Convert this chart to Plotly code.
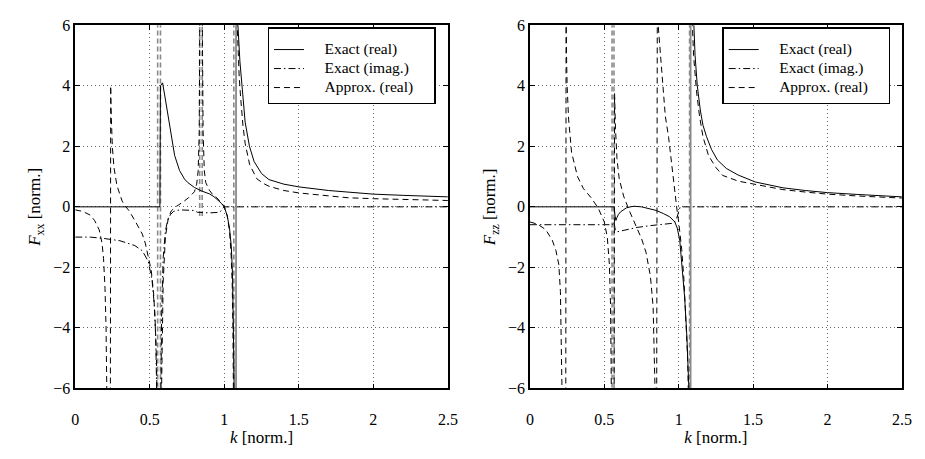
import plotly.graph_objects as go

# ---------------- data ----------------
N = None
# Left panel: F_xx
kxx_exact_real = [0, 0.568, 0.572, 0.586, 0.6, 0.623, 0.645, 0.667, 0.7, 0.733, 0.756, 0.8, 0.85, 0.9, 0.93,
                  0.96, 0.98, 1.0, 1.02, 1.035, 1.047, 1.055, 1.06, 1.064, 1.067, N,
                  1.086, 1.095, 1.105, 1.119, 1.14, 1.169, 1.2, 1.25, 1.3, 1.4, 1.5, 1.7, 1.85, 2.0, 2.2, 2.5]
fxx_exact_real = [0, 0, 4.0, 4.1, 3.7, 3.05, 2.3, 1.7, 1.2, 0.92, 0.8, 0.64, 0.52, 0.43, 0.34,
                  0.22, 0.12, 0.0, -0.3, -0.7, -1.3, -2.2, -3.3, -5.0, -6.5, N,
                  6.5, 5.5, 4.8, 4.0, 2.8, 2.0, 1.5, 1.1, 0.9, 0.75, 0.66, 0.54, 0.47, 0.42, 0.38, 0.33]

kxx_exact_imag = [0, 0.1, 0.2, 0.3, 0.4, 0.45, 0.49, 0.515, 0.53, 0.54, 0.548, N,
                  0.574, 0.58, 0.59, 0.605, 0.62, 0.64, 0.66, 0.7, 0.8, 0.82, 0.9, 0.97, 0.99, 1.0, 2.5]
fxx_exact_imag = [-1.0, -1.0, -1.05, -1.12, -1.28, -1.45, -1.8, -2.4, -3.2, -4.3, -6.5, N,
                  -6.5, -3.5, -1.7, -0.8, -0.45, -0.25, -0.15, -0.1, -0.12, -0.18, -0.2, -0.18, -0.05, 0, 0]

kxx_approx_real = [0, 0.05, 0.1, 0.13, 0.161, 0.18, 0.19, 0.2, 0.207, 0.213, N,
                   0.236, 0.238, 0.242, 0.249, 0.26, 0.28, 0.3, 0.315, 0.34, 0.36, 0.4, 0.425, 0.45, 0.47,
                   0.49, 0.51, 0.525, 0.535, 0.545, 0.55, N,
                   0.578, 0.59, 0.605, 0.625, 0.645, 0.68, 0.72, 0.76, 0.8, 0.815, 0.825, 0.832, 0.836, N,
                   0.852, 0.858, 0.866, 0.876, 0.9, 0.92, 0.95, 0.98, 1.0, 1.02, 1.035, 1.045, 1.053, 1.058, 1.062, N,
                   1.083, 1.092, 1.1, 1.11, 1.125, 1.14, 1.17, 1.218, 1.26, 1.3, 1.4, 1.5, 1.7, 1.83, 2.0, 2.16, 2.5]
fxx_approx_real = [-0.1, -0.15, -0.27, -0.45, -0.76, -1.2, -1.7, -2.7, -4.0, -6.5, N,
                   -6.5, 4.0, 3.0, 2.0, 1.3, 0.7, 0.38, 0.19, 0.0, -0.12, -0.45, -0.66, -0.9, -1.2,
                   -1.6, -2.1, -2.8, -3.6, -5.0, -6.5, N,
                   -6.5, -2.5, -1.0, -0.35, -0.13, 0.02, 0.15, 0.3, 0.5, 0.75, 1.2, 2.5, 6.5, N,
                   6.5, 2.5, 1.2, 0.8, 0.55, 0.42, 0.3, 0.15, 0.02, -0.3, -0.8, -1.5, -2.5, -4.0, -6.5, N,
                   6.5, 5.2, 4.3, 3.6, 2.7, 2.1, 1.4, 0.93, 0.78, 0.68, 0.54, 0.46, 0.35, 0.3, 0.27, 0.25, 0.21]

# pole (jump) lines drawn in grey
xx_pole_k = [0.553, 0.572, 0.835, 0.852, 1.064]
xx_pole_top = [6.5, 6.5, 6.5, 6.5, 6.5]
xx_pole_bot = [-6.5, -6.5, -0.3, -0.3, -6.5]
xx_pole_solid_k = [1.079]

# Right panel: F_zz
kzz_exact_real = [0, 0.566, 0.572, 0.578, 0.585, 0.595, 0.61, 0.63, 0.65, 0.676, 0.7, 0.75, 0.807, 0.85,
                  0.896, 0.94, 0.974, 0.99, 1.007, 1.025, 1.04, 1.055, 1.065, 1.072, N,
                  1.098, 1.11, 1.125, 1.145, 1.163, 1.187, 1.22, 1.26, 1.32, 1.4, 1.516, 1.7, 1.85, 2.0, 2.2, 2.5]
fzz_exact_real = [0, 0, -0.3, -0.45, -0.35, -0.25, -0.16, -0.08, -0.03, 0.0, 0.02, 0.0, -0.06, -0.12,
                  -0.22, -0.33, -0.5, -0.7, -1.1, -2.0, -3.0, -4.3, -5.5, -6.5, N,
                  6.5, 5.0, 4.0, 3.2, 2.7, 2.32, 1.9, 1.55, 1.27, 1.05, 0.82, 0.63, 0.54, 0.47, 0.41, 0.33]

kzz_exact_imag = [0, 0.555, 0.565, 0.575, 0.59, 0.65, 0.72, 0.81, 0.9, 0.965, 0.985, 1.0, 1.01, 2.5]
fzz_exact_imag = [-0.59, -0.59, -0.5, -0.8, -0.82, -0.75, -0.68, -0.62, -0.57, -0.54, -0.4, -0.1, 0, 0]

kzz_approx_real = [0, 0.05, 0.106, 0.15, 0.175, 0.194, 0.205, 0.212, 0.217, N,
                   0.241, 0.243, 0.246, 0.25, 0.26, 0.28, 0.32, 0.36, 0.41, 0.46, 0.5, 0.52, 0.534, 0.542, 0.548, N,
                   0.566, 0.569, 0.575, 0.585, 0.6, 0.63, 0.67, 0.7, 0.75, 0.78, 0.81, 0.828, 0.838, 0.843, N,
                   0.852, 0.856, 0.862, 0.875, 0.89, 0.91, 0.932, 0.95, 0.97, 0.986, 1.0, 1.02, 1.035, 1.05, 1.06, 1.066, N,
                   1.088, 1.1, 1.12, 1.14, 1.163, 1.2, 1.25, 1.295, 1.4, 1.516, 1.7, 1.85, 2.0, 2.2, 2.5]
fzz_approx_real = [-0.5, -0.57, -0.75, -1.1, -1.45, -1.9, -2.8, -4.5, -6.5, N,
                   -6.5, 6.5, 5.0, 4.0, 2.9, 1.8, 1.0, 0.6, 0.31, -0.05, -0.5, -1.0, -1.9, -3.3, -6.5, N,
                   -6.5, 3.75, 2.6, 1.6, 0.93, 0.35, -0.15, -0.5, -1.05, -1.5, -2.3, -3.3, -4.8, -6.5, N,
                   -6.5, 6.5, 6.0, 5.2, 4.0, 3.0, 2.3, 1.5, 0.7, 0.0, -0.5, -1.4, -2.4, -3.7, -5.0, -6.5, N,
                   6.5, 5.0, 3.8, 3.0, 2.32, 1.7, 1.3, 1.04, 0.85, 0.74, 0.57, 0.49, 0.42, 0.36, 0.29]

zz_pole_k = [0.552, 0.565, 1.073]
zz_pole_top = [6.5, 6.5, 6.5]
zz_pole_bot = [-6.5, -6.5, -6.5]
zz_pole_solid_k = [1.08]

x_ticks = [0, 0.5, 1, 1.5, 2, 2.5]
y_ticks = [-6, -4, -2, 0, 2, 4, 6]
legend_names = ["Exact (real)", "Exact (imag.)", "Approx. (real)"]

# ---------------- figure ----------------
SERIF = "Liberation Serif, Times New Roman, serif"
DASH = "6px,4px"
DASHDOT = "7px,3px,1.5px,3px"
GREY = "#8a8a8a"

fig = go.Figure()


def seg_lines(ks, tops, bots):
    xs, ys = [], []
    for k, t, b in zip(ks, tops, bots):
        xs += [k, k, None]
        ys += [b, t, None]
    return xs, ys


def leg_label(name):
    return '<span style="font-size:15.5px">\u2003' + name + '\u2003</span>'


def add_panel(xa, ya, leg, k_er, v_er, k_ei, v_ei, k_ar, v_ar, pk, ptop, pbot, psk):
    px, py = seg_lines(pk, ptop, pbot)
    fig.add_trace(go.Scatter(x=px, y=py, mode="lines", xaxis=xa, yaxis=ya, showlegend=False,
                             line=dict(color=GREY, width=1.6, dash="5px,3px"), hoverinfo="skip"))
    sx, sy = seg_lines(psk, [6.5] * len(psk), [-6.5] * len(psk))
    fig.add_trace(go.Scatter(x=sx, y=sy, mode="lines", xaxis=xa, yaxis=ya, showlegend=False,
                             line=dict(color=GREY, width=1.8), hoverinfo="skip"))
    fig.add_trace(go.Scatter(x=k_er, y=v_er, mode="lines", name=leg_label(legend_names[0]), legend=leg,
                             xaxis=xa, yaxis=ya, line=dict(color="black", width=1)))
    fig.add_trace(go.Scatter(x=k_ei, y=v_ei, mode="lines", name=leg_label(legend_names[1]), legend=leg,
                             xaxis=xa, yaxis=ya, line=dict(color="black", width=1, dash=DASHDOT)))
    fig.add_trace(go.Scatter(x=k_ar, y=v_ar, mode="lines", name=leg_label(legend_names[2]), legend=leg,
                             xaxis=xa, yaxis=ya, line=dict(color="black", width=1, dash=DASH)))


add_panel("x", "y", "legend", kxx_exact_real, fxx_exact_real, kxx_exact_imag, fxx_exact_imag,
          kxx_approx_real, fxx_approx_real, xx_pole_k, xx_pole_top, xx_pole_bot, xx_pole_solid_k)
add_panel("x2", "y2", "legend2", kzz_exact_real, fzz_exact_real, kzz_exact_imag, fzz_exact_imag,
          kzz_approx_real, fzz_approx_real, zz_pole_k, zz_pole_top, zz_pole_bot, zz_pole_solid_k)

W, H = 925, 459
ydom = [1 - 395 / H, 1 - 18 / H]

axis_common = dict(showline=True, linecolor="black", linewidth=1.5, mirror="ticks",
                   ticks="inside", ticklen=5, tickcolor="black", tickwidth=1,
                   showgrid=True, gridcolor="rgba(0,0,0,0.6)", griddash="1px,3px", gridwidth=1,
                   zeroline=False, tickfont=dict(family=SERIF, size=16, color="black"))

xt = dict(text="<i>k</i> [norm.]", font=dict(family=SERIF, size=17, color="black"), standoff=0)

leg_common = dict(xanchor="right", y=1 - 20 / H, yanchor="top",
                  bordercolor="black", borderwidth=1.3, bgcolor="white",
                  font=dict(family=SERIF, size=12, color="black"), tracegroupgap=0,
                  title=dict(text=" ", font=dict(size=5)))

fig.update_layout(
    width=W, height=H, margin=dict(l=0, r=0, t=0, b=0),
    paper_bgcolor="white", plot_bgcolor="white",
    font=dict(family=SERIF, color="black"),
    xaxis=dict(domain=[72.3 / W, 450.7 / W], range=[0, 2.5], tickvals=x_ticks,
               title=xt, ticklabelstandoff=16, **axis_common),
    yaxis=dict(domain=ydom, range=[-6, 6], tickvals=y_ticks,
               title=dict(text="<i>F</i><sub>xx</sub> [norm.]", font=dict(family=SERIF, size=17, color="black"),
                          standoff=8), **axis_common),
    xaxis2=dict(domain=[534 / W, 911.7 / W], range=[0, 2.5], tickvals=x_ticks, anchor="y2",
                title=xt, ticklabelstandoff=16, **axis_common),
    yaxis2=dict(domain=ydom, range=[-6, 6], tickvals=y_ticks, anchor="x2",
                title=dict(text="<i>F</i><sub>zz</sub> [norm.]", font=dict(family=SERIF, size=17, color="black"),
                           standoff=8), **axis_common),
    legend=dict(x=438.3 / W, **leg_common),
    legend2=dict(x=900 / W, **leg_common),
    showlegend=True,
)

fig.write_html("out.html")
